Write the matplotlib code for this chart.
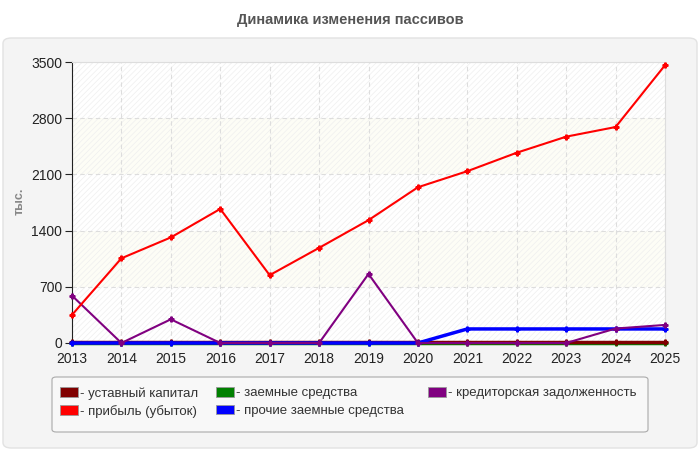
import numpy as np
import matplotlib.pyplot as plt
from matplotlib.patches import FancyBboxPatch, Patch

years = [2013, 2014, 2015, 2016, 2017, 2018, 2019, 2020, 2021, 2022, 2023, 2024, 2025]

ustavny = [10, 10, 10, 10, 10, 10, 10, 10, 10, 10, 10, 10, 10]
pribyl = [350, 1055, 1315, 1670, 845, 1185, 1530, 1940, 2140, 2370, 2570, 2690, 3460]
zaemnye = [0, 0, 0, 0, 0, 0, 0, 0, 0, 0, 0, 0, 0]
prochie = [0, 0, 0, 0, 0, 0, 0, 0, 175, 175, 175, 175, 175]
kreditor = [590, 0, 295, 0, 0, 0, 860, 0, 0, 0, 0, 180, 225]

series_names = ['уставный капитал', 'прибыль (убыток)', 'заемные средства',
                'прочие заемные средства', 'кредиторская задолженность']
series_colors = ['#800000', '#ff0000', '#008000', '#0000ff', '#800080']
series_data = [ustavny, pribyl, zaemnye, prochie, kreditor]
series_lw = [2.5, 1.5, 2.5, 2.5, 1.5]
# green is hidden under the others in the original
series_z = [3.1, 3.5, 3.0, 3.2, 3.3]

plt.rcParams['font.family'] = ['Liberation Sans', 'DejaVu Sans']
plt.rcParams['hatch.linewidth'] = 0.5

fig = plt.figure(figsize=(7, 4.5), dpi=100)
fig.patch.set_facecolor('white')
W, H = 700, 450

# outer panel
panel = FancyBboxPatch((3 / W, 2 / H), 694 / W, 410 / H,
                       boxstyle='round,pad=0,rounding_size=0.012',
                       transform=fig.transFigure, facecolor='#f4f4f4',
                       edgecolor='#e2e2e2', linewidth=1, zorder=-5)
fig.patches.append(panel)

fig.text(0.5, 1 - 20 / H, 'Динамика изменения пассивов', ha='center', va='center',
         fontsize=10.5, fontweight='bold', color='#555555')

ax = fig.add_axes([72 / W, 1 - 343 / H, (665 - 72) / W, (343 - 62) / H])
ax.set_facecolor('white')

# background bands
for lo, hi in [(700, 1400), (2100, 2800)]:
    ax.axhspan(lo, hi, facecolor='#fdfdf6', edgecolor='none', zorder=0)
ax.axhspan(0, 3500, facecolor='none', edgecolor='#efefef', hatch='//////',
           linewidth=0, zorder=0.1)

for vals, col, lw, z in zip(series_data, series_colors, series_lw, series_z):
    ax.plot(years, vals, color=col, linewidth=lw, marker='P', markersize=3.5,
            clip_on=False, zorder=z)

ax.set_xlim(2013, 2025)
ax.set_ylim(0, 3500)
ax.set_xticks(years)
ax.set_yticks([0, 700, 1400, 2100, 2800, 3500])
ax.grid(True, color='#dddddd', linestyle=(0, (4, 3)), linewidth=0.8)
ax.set_axisbelow(True)
for s in ['top', 'right']:
    ax.spines[s].set_color('#dddddd')
ax.spines['left'].set_color('#222222')
ax.spines['bottom'].set_color('#222222')
ax.tick_params(axis='y', labelsize=10, colors='#222222', length=5, pad=2)
ax.tick_params(axis='x', labelsize=10, colors='#222222', length=0, pad=6.5)

fig.text(20 / W, 1 - 201 / H, 'тыс.', rotation=90, ha='center', va='center',
         fontsize=9, fontweight='bold', color='#888888')

# legend frame
lframe = FancyBboxPatch((52 / W, 1 - 432 / H), 596 / W, 55 / H,
                        boxstyle='round,pad=0,rounding_size=0.006',
                        transform=fig.transFigure, facecolor='#f8f8f8',
                        edgecolor='#aaaaaa', linewidth=0.8, zorder=-1)
fig.patches.append(lframe)

# three legend columns
handles = [Patch(facecolor=c, edgecolor='#999999', linewidth=0.6) for c in series_colors]
labels = ['- ' + n for n in series_names]
col_groups = [([0, 1], 60), ([2, 3], 216), ([4], 428)]
for idx, x0 in col_groups:
    leg = fig.legend([handles[i] for i in idx], [labels[i] for i in idx],
                     loc='upper left', bbox_to_anchor=(x0 / W, 1 - 387 / H),
                     frameon=False, fontsize=9.5, handlelength=1.4, handleheight=0.75,
                     handletextpad=0.15, labelspacing=0.4, borderpad=0,
                     borderaxespad=0, labelcolor='#333333')

fig.savefig('out.png', dpi=100)
